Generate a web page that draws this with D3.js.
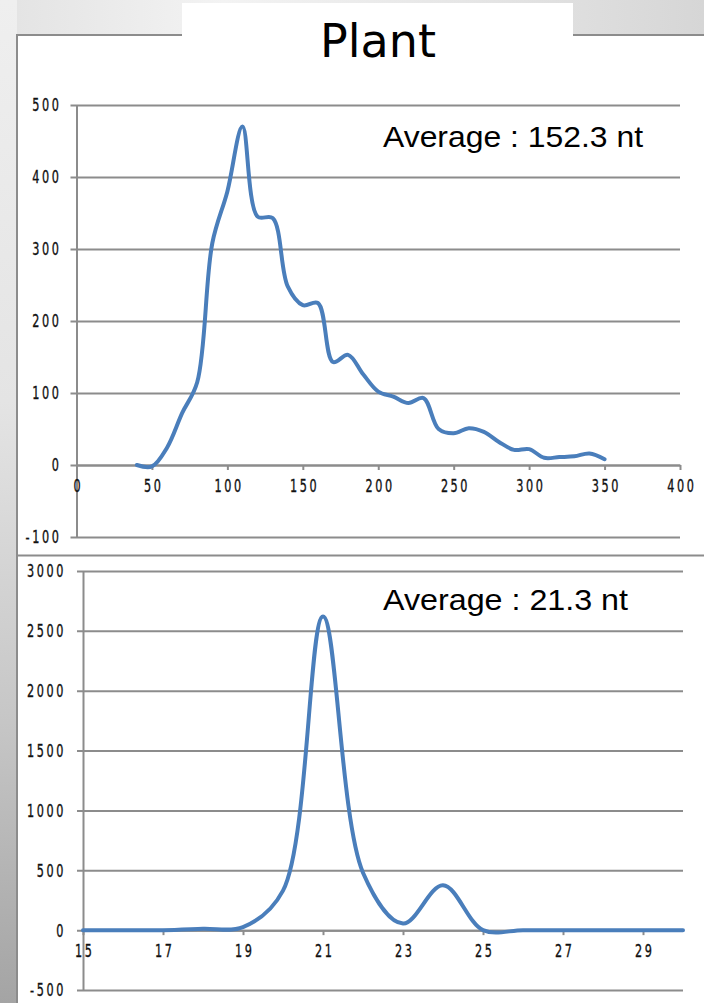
<!DOCTYPE html>
<html>
<head>
<meta charset="utf-8">
<script src="https://cdn.jsdelivr.net/npm/d3@7"></script>
<style>
  html, body { margin: 0; padding: 0; background: #ffffff; }
  svg { display: block; }
</style>
</head>
<body>
<script>
(function(){
    "use strict";

    // upper panel: read length (nt) vs count
    const topLengths = [40, 50, 60, 70, 80, 90, 100, 110, 120, 130, 140, 150, 160, 170, 180, 190,
                        200, 210, 220, 230, 240, 250, 260, 270, 280, 290, 300, 310, 320, 330, 340, 350];
    const topCounts = [0, -2, 24, 72, 115, 308, 380, 470, 345, 343, 248, 222, 225, 143, 153, 126,
                       102, 95, 86, 93, 50, 44, 51, 46, 32, 21, 22, 10, 11, 12, 16, 8];
    const topXTicks = [0, 50, 100, 150, 200, 250, 300, 350, 400];
    const topYTicks = [-100, 0, 100, 200, 300, 400, 500];

    // lower panel: small RNA length vs count
    const bottomLengths = [15, 16, 17, 18, 19, 20, 21, 22, 23, 24, 25, 26, 27, 28, 29, 30];
    const bottomCounts = [0, 0, 0, 12, 25, 330, 2620, 480, 55, 375, 0, 0, 0, 0, 0, 0];
    const bottomXTicks = [15, 17, 19, 21, 23, 25, 27, 29];
    const bottomYTicks = [-500, 0, 500, 1000, 1500, 2000, 2500, 3000];

    const title = "Plant";
    const topNote = "Average : 152.3 nt";
    const bottomNote = "Average : 21.3 nt";

    const W = 704, H = 1003;
    const lineColor = "#4a7ebb";
    const gridColor = "#8c8c8c";

    let svg = d3.select("body").append("svg")
        .attr("width", W)
        .attr("height", H);

    drawBackground();

    let topChart = {
        x: d3.scaleLinear().domain([0, 400]).range([76.5, 680]),
        y: d3.scaleLinear().domain([-100, 500]).range([537, 105]),
        xTicks: topXTicks, yTicks: topYTicks,
        labelGap: -15
    };
    let bottomChart = {
        x: d3.scaleLinear().domain([15, 30]).range([83, 683]),
        y: d3.scaleLinear().domain([-500, 3000]).range([990, 571]),
        xTicks: bottomXTicks, yTicks: bottomYTicks,
        labelGap: -17
    };

    drawAxes(topChart);
    plotData(topChart, topLengths, topCounts);
    drawAxes(bottomChart);
    plotData(bottomChart, bottomLengths, bottomCounts);

    svg.append("text")
        .attr("x", 383).attr("y", 147)
        .attr("textLength", 260).attr("lengthAdjust", "spacingAndGlyphs")
        .style("font-family", "'Liberation Sans', Arial, sans-serif")
        .style("font-size", "29px")
        .attr("fill", "#000")
        .text(topNote);

    svg.append("text")
        .attr("x", 383).attr("y", 610)
        .attr("textLength", 245).attr("lengthAdjust", "spacingAndGlyphs")
        .style("font-family", "'Liberation Sans', Arial, sans-serif")
        .style("font-size", "29px")
        .attr("fill", "#000")
        .text(bottomNote);

    function drawBackground() {
        let defs = svg.append("defs");
        let side = defs.append("linearGradient")
            .attr("id", "side").attr("x1", 0).attr("y1", 0).attr("x2", 0).attr("y2", 1);
        side.append("stop").attr("offset", "0%").attr("stop-color", "#efefef");
        side.append("stop").attr("offset", "40%").attr("stop-color", "#e4e4e4");
        side.append("stop").attr("offset", "72%").attr("stop-color", "#c6c6c6");
        side.append("stop").attr("offset", "100%").attr("stop-color", "#a4a4a4");

        let band = defs.append("linearGradient")
            .attr("id", "band").attr("x1", 0).attr("y1", 0).attr("x2", 1).attr("y2", 0);
        band.append("stop").attr("offset", "0%").attr("stop-color", "#e4e4e4");
        band.append("stop").attr("offset", "30%").attr("stop-color", "#f3f3f3");
        band.append("stop").attr("offset", "65%").attr("stop-color", "#e6e6e6");
        band.append("stop").attr("offset", "100%").attr("stop-color", "#d6d6d6");

        svg.append("rect").attr("width", W).attr("height", H).attr("fill", "url(#side)");
        svg.append("rect").attr("x", 17).attr("width", W - 17).attr("height", 36).attr("fill", "url(#band)");

        // white slide panel
        svg.append("rect")
            .attr("x", 17).attr("y", 35)
            .attr("width", W - 17).attr("height", H - 35)
            .attr("fill", "#fff");
        svg.append("path")
            .attr("d", "M17," + H + "V35H" + W)
            .attr("fill", "none")
            .attr("stroke", gridColor)
            .attr("stroke-width", 2);
        svg.append("line")
            .attr("x1", 17).attr("x2", W).attr("y1", 555.5).attr("y2", 555.5)
            .attr("stroke", gridColor).attr("stroke-width", 2);

        // title tab
        svg.append("rect")
            .attr("x", 182).attr("y", 3)
            .attr("width", 391).attr("height", 40)
            .attr("fill", "#fff");
        svg.append("text")
            .attr("x", 378).attr("y", 57)
            .attr("text-anchor", "middle")
            .style("font-family", "'DejaVu Sans', Verdana, sans-serif")
            .style("font-size", "46px")
            .attr("fill", "#000")
            .text(title);
    }

    function styleLabels(sel) {
        sel.selectAll("text")
            .style("font-family", "'Liberation Sans Narrow', 'DejaVu Sans Condensed', sans-serif")
            .style("font-size", "12.5px")
            .style("letter-spacing", "2.6px")
            .attr("fill", "#111")
            .attr("stroke", "#111")
            .attr("stroke-width", 0.25)
            .attr("transform", "scale(1,1.35)");
    }

    function drawAxes(c) {
        let [x0, x1] = c.x.range();
        let w = x1 - x0;
        let fmt = d => String(d);

        let yAxis = d3.axisLeft(c.y)
            .tickValues(c.yTicks)
            .tickFormat(fmt)
            .tickSizeInner(-w)
            .tickSizeOuter(0);

        let gy = svg.append("g")
            .attr("transform", "translate(" + x0 + ",0)")
            .call(yAxis);
        gy.selectAll("line")
            .attr("x1", -6)
            .attr("stroke", gridColor)
            .attr("stroke-width", 2);
        gy.select(".domain")
            .attr("stroke", gridColor)
            .attr("stroke-width", 2);
        styleLabels(gy);
        gy.selectAll("text")
            .attr("x", c.labelGap)
            .attr("dy", "0.35em");

        let xAxis = d3.axisBottom(c.x)
            .tickValues(c.xTicks)
            .tickFormat(fmt)
            .tickSize(5)
            .tickSizeOuter(0);

        let gx = svg.append("g")
            .attr("transform", "translate(0," + c.y(0) + ")")
            .call(xAxis);
        gx.selectAll("line")
            .attr("stroke", gridColor)
            .attr("stroke-width", 2);
        gx.select(".domain")
            .attr("stroke", gridColor)
            .attr("stroke-width", 2);
        styleLabels(gx);
        gx.selectAll("text")
            .attr("y", 20)
            .attr("dy", 0)
            .attr("dx", 1.3);
    }

    function plotData(c, xs, ys) {
        let pts = xs.map((v, i) => [v, ys[i]]);
        let line = d3.line()
            .x(d => c.x(d[0]))
            .y(d => c.y(d[1]))
            .curve(d3.curveCatmullRom.alpha(0.5));

        svg.append("path")
            .datum(pts)
            .attr("d", line)
            .attr("fill", "none")
            .attr("stroke", lineColor)
            .attr("stroke-width", 4)
            .attr("stroke-linecap", "round")
            .attr("stroke-linejoin", "round");
    }
})()
</script>
</body>
</html>
